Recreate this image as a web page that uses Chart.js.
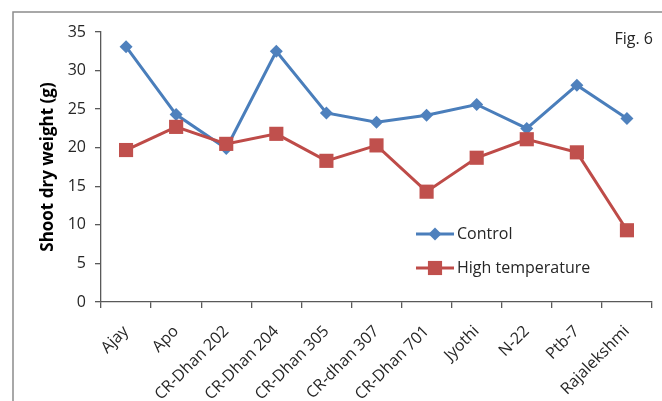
<!DOCTYPE html>
<html>
<head>
<meta charset="utf-8">
<script src="https://cdn.jsdelivr.net/npm/chart.js@4/dist/chart.umd.min.js"></script>
<style>
  html, body { margin: 0; padding: 0; background: #ffffff; }
  #wrap { width: 662px; height: 401px; position: relative; }
</style>
</head>
<body>
<div id="wrap"><canvas id="c" width="662" height="401"></canvas></div>
<script>
// Rice varieties along the x axis
const categories = ['Ajay', 'Apo', 'CR-Dhan 202', 'CR-Dhan 204', 'CR-Dhan 305', 'CR-dhan 307',
  'CR-Dhan 701', 'Jyothi', 'N-22', 'Ptb-7', 'Rajalekshmi'];

// Shoot dry weight (g) per variety
const controlValues = [33.1, 24.3, 19.9, 32.5, 24.5, 23.3, 24.2, 25.6, 22.5, 28.1, 23.8];
const highTempValues = [19.7, 22.7, 20.5, 21.8, 18.3, 20.3, 14.3, 18.7, 21.1, 19.4, 9.3];

// Value axis
const yMin = 0;
const yMax = 35;
const yStep = 5;

const seriesNames = ['Control', 'High temperature'];
const figLabel = 'Fig. 6';
const yTitle = 'Shoot dry weight (g)';

const FONT = '"Open Sans", "Noto Sans", sans-serif';
const TEXT = '#262626';
const AXIS = '#595959';

// Frame around the figure, figure label and in-plot legend
const decorations = {
  id: 'decorations',
  beforeDraw(chart) {
    const ctx = chart.ctx;
    ctx.save();
    ctx.fillStyle = '#ffffff';
    ctx.fillRect(0, 0, chart.width, chart.height);
    ctx.strokeStyle = '#8c8c8c';
    ctx.lineWidth = 1.5;
    ctx.strokeRect(13, 12, chart.width + 20, chart.height + 20);
    ctx.restore();
  },
  afterDraw(chart) {
    const ctx = chart.ctx;
    const area = chart.chartArea;
    ctx.save();
    ctx.fillStyle = TEXT;
    ctx.font = '16px ' + FONT;
    ctx.textAlign = 'right';
    ctx.textBaseline = 'middle';
    ctx.fillText(figLabel, area.right + 1, 39);

    // legend entries
    const lx = area.left + 315;
    const rows = [234, 268];
    chart.data.datasets.forEach((ds, i) => {
      const y = rows[i];
      ctx.strokeStyle = ds.borderColor;
      ctx.lineWidth = 3;
      ctx.beginPath();
      ctx.moveTo(lx, y);
      ctx.lineTo(lx + 38, y);
      ctx.stroke();
      ctx.fillStyle = ds.pointBackgroundColor;
      Chart.helpers.drawPoint(ctx, {
        pointStyle: ds.pointStyle,
        radius: ds.pointRadius,
        rotation: 0,
        borderWidth: 0
      }, lx + 19, y);
      ctx.fillStyle = TEXT;
      ctx.textAlign = 'left';
      ctx.font = '16px ' + FONT;
      ctx.fillText(ds.label, lx + 41, y);
    });
    ctx.restore();
  }
};

new Chart(document.getElementById('c'), {
  type: 'line',
  data: {
    labels: categories,
    datasets: [
      {
        label: seriesNames[0],
        data: controlValues,
        borderColor: '#4a7ebb',
        backgroundColor: '#4f81bd',
        pointBackgroundColor: '#4f81bd',
        pointBorderColor: '#4f81bd',
        pointStyle: 'rectRot',
        pointRadius: 6.5,
        pointBorderWidth: 0,
        borderWidth: 3,
        tension: 0,
        order: 2
      },
      {
        label: seriesNames[1],
        data: highTempValues,
        borderColor: '#be4b48',
        backgroundColor: '#c0504d',
        pointBackgroundColor: '#c0504d',
        pointBorderColor: '#c0504d',
        pointStyle: 'rect',
        pointRadius: 10,
        pointBorderWidth: 0,
        borderWidth: 3,
        tension: 0,
        order: 1
      }
    ]
  },
  options: {
    responsive: false,
    animation: false,
    events: [],
    layout: { padding: { top: 32, right: 9, left: 38, bottom: 0 } },
    plugins: {
      legend: { display: false },
      tooltip: { enabled: false }
    },
    scales: {
      x: {
        offset: true,
        grid: {
          display: true,
          drawOnChartArea: false,
          offset: true,
          tickLength: 6,
          color: AXIS,
          lineWidth: 1.3
        },
        border: { display: true, color: AXIS, width: 1.3 },
        ticks: {
          color: TEXT,
          font: { family: FONT, size: 16 },
          minRotation: 45,
          maxRotation: 45,
          padding: 14,
          autoSkip: false
        },
        afterFit(scale) { scale.height = 99; }
      },
      y: {
        min: yMin,
        max: yMax,
        ticks: {
          stepSize: yStep,
          color: TEXT,
          font: { family: FONT, size: 16 },
          padding: 9
        },
        grid: {
          display: true,
          drawOnChartArea: false,
          tickLength: 6,
          color: AXIS,
          lineWidth: 1.3
        },
        border: { display: true, color: AXIS, width: 1.3 },
        title: {
          display: true,
          text: yTitle,
          color: '#000000',
          font: { family: FONT, size: 17, weight: 'bold' },
          padding: { top: 0, bottom: 2 }
        },
        afterFit(scale) { scale.width = 63; }
      }
    }
  },
  plugins: [decorations]
});
</script>
</body>
</html>
